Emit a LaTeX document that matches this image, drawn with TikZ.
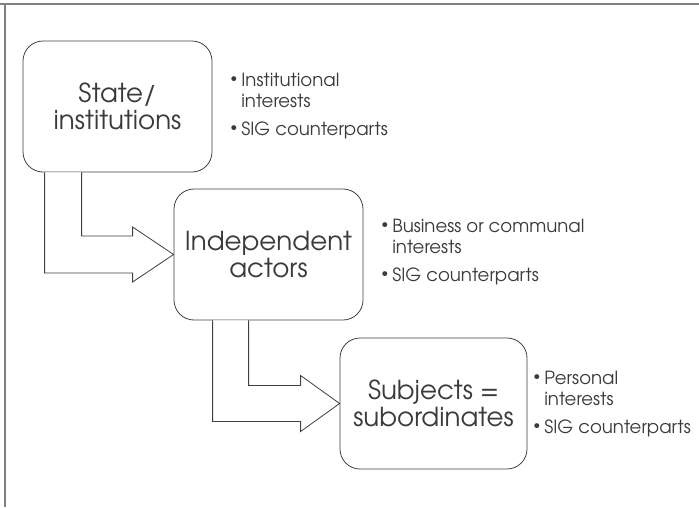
\documentclass[tikz,border=0pt]{standalone}
\usepackage{fontspec}
\setmainfont{TeX Gyre Adventor}
\usetikzlibrary{calc}

\definecolor{boxline}{HTML}{404040}
\definecolor{textgray}{HTML}{3A3A3A}
\definecolor{framegray}{HTML}{808080}
\newcommand{\notebullet}{\raisebox{0.45ex}{\scalebox{0.75}{\textbullet}}}

\begin{document}
\begin{tikzpicture}[x=0.75pt,y=-0.75pt,
  actor/.style={draw=boxline, line width=0.6pt, fill=white, rounded corners=15pt,
    minimum width=141.75pt, minimum height=98.25pt, align=center, text=textgray,
    font=\fontsize{19.6}{20.25}\selectfont},
  notes/.style={anchor=west, inner sep=0pt, text=textgray,
    font=\fontsize{13.6}{15.75}\selectfont},
  flow/.style={draw=boxline, line width=0.6pt, fill=white}]
\useasboundingbox (0,0) rectangle (699,507);
\draw[framegray, line width=0.8pt] (0,4) -- (699,4);
\draw[framegray, line width=0.8pt] (5,4) -- (5,507);

\node[actor] (state) at (117.5,106.5) {State/\\institutions};
\node[actor] (indep) at (268.5,254.5) {Independent\\actors};
\node[actor, minimum width=140.25pt] (subj) at (433.5,403.5) {Subjects =\\subordinates};

\draw[flow] ($(state.south west)+(22,0)$) |- ($(indep.west)+(-41,18.5)$) -- ++(0,9)
  -- (indep.west) -- ++(-41,-27.5) -- ++(0,9) -| ($(state.south west)+(59,0)$);
\draw[flow] ($(indep.south west)+(39,0)$) |- ($(subj.west)+(-39,18)$) -- ++(0,10)
  -- (subj.west) -- ++(-39,-28) -- ++(0,10) -| ($(indep.south west)+(75,0)$);

\node[notes] (statenotes) at (230,107) {\begin{tabular}{@{}l@{\hspace{3pt}}l@{}}
  \notebullet & Institutional\\ & interests\\[5pt] \notebullet & SIG counterparts\end{tabular}};
\node[notes] (indepnotes) at (381,253) {\begin{tabular}{@{}l@{\hspace{3pt}}l@{}}
  \notebullet & Business or communal\\ & interests\\[5pt] \notebullet & SIG counterparts\end{tabular}};
\node[notes] (subjnotes) at (533,405) {\begin{tabular}{@{}l@{\hspace{3pt}}l@{}}
  \notebullet & Personal\\ & interests\\[5pt] \notebullet & SIG counterparts\end{tabular}};
\end{tikzpicture}
\end{document}
